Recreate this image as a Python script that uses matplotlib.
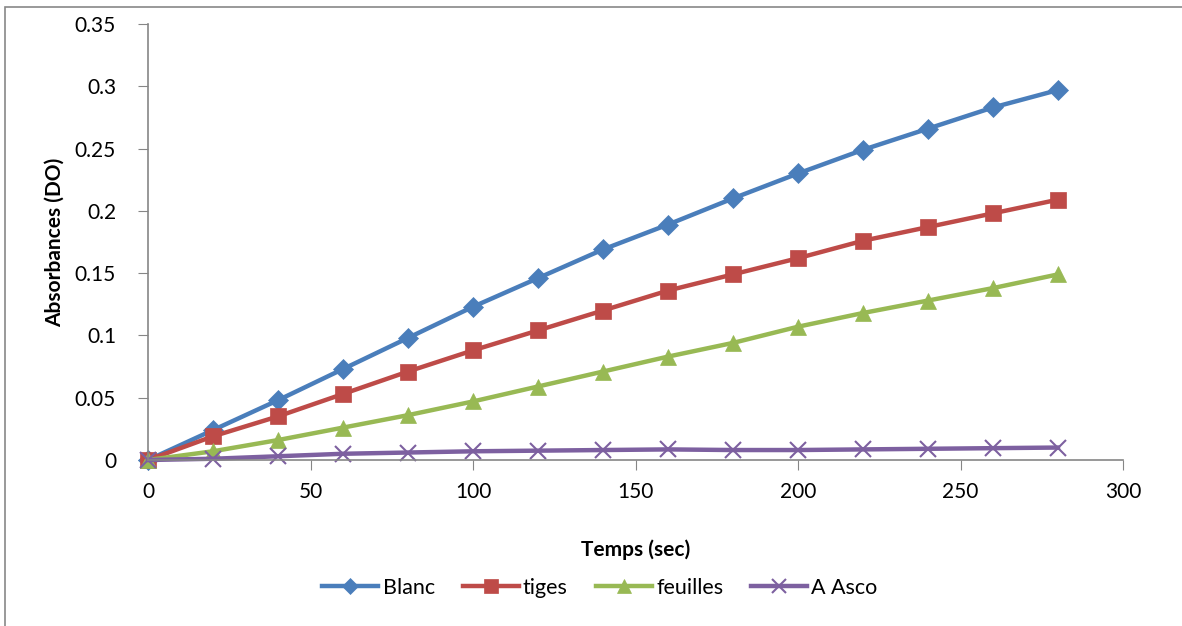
import numpy as np
import matplotlib.pyplot as plt
from matplotlib.patches import Rectangle

plt.rcParams['font.family'] = ['Lato', 'DejaVu Sans']

# Data
temps = [0, 20, 40, 60, 80, 100, 120, 140, 160, 180, 200, 220, 240, 260, 280]
blanc = [0, 0.024, 0.048, 0.073, 0.098, 0.123, 0.146, 0.169, 0.189, 0.210,
         0.230, 0.249, 0.266, 0.283, 0.297]
tiges = [0, 0.019, 0.035, 0.053, 0.071, 0.088, 0.104, 0.120, 0.136, 0.149,
         0.162, 0.176, 0.187, 0.198, 0.209]
feuilles = [0, 0.007, 0.016, 0.026, 0.036, 0.047, 0.059, 0.071, 0.083, 0.094,
            0.107, 0.118, 0.128, 0.138, 0.149]
asco = [0, 0.001, 0.003, 0.005, 0.006, 0.007, 0.0075, 0.008, 0.0085, 0.008,
        0.008, 0.0085, 0.009, 0.0095, 0.010]

fig = plt.figure(figsize=(11.82, 6.26), dpi=100)
W, H = 1182, 626
ax = fig.add_axes([148 / W, (H - 460) / H, (1123 - 148) / W, (460 - 24) / H])

# outer chart frame
fig.patches.append(Rectangle((5 / W, -0.01), 1.2, (H - 7) / H + 0.01,
                             transform=fig.transFigure, fill=False,
                             edgecolor='#888888', linewidth=1.2))

series = [
    (blanc, 'Blanc', '#4A7EBB', 'D', 10),
    (tiges, 'tiges', '#BE4B48', 's', 12),
    (feuilles, 'feuilles', '#98B954', '^', 12),
    (asco, 'A Asco', '#7D60A0', 'x', 12),
]
for vals, name, col, mk, ms in series:
    ax.plot(temps, vals, color=col, lw=3.2, marker=mk, markersize=ms,
            markeredgewidth=1.5 if mk == 'x' else 0.5, markeredgecolor=col,
            label=name, clip_on=False)

ax.set_xlim(0, 300)
ax.set_ylim(0, 0.35)
ax.set_xticks(np.arange(0, 301, 50))
ax.set_yticks(np.arange(0, 0.351, 0.05))
ax.set_yticklabels(['0', '0.05', '0.1', '0.15', '0.2', '0.25', '0.3', '0.35'])
for s in ['top', 'right']:
    ax.spines[s].set_visible(False)
for s in ['left', 'bottom']:
    ax.spines[s].set_color('#868686')
    ax.spines[s].set_linewidth(1.2)
ax.tick_params(direction='out', length=7, color='#868686', labelsize=15)
ax.tick_params(axis='y', pad=16)
ax.tick_params(axis='x', pad=9)

ax.set_xlabel('Temps (sec)', fontsize=15, fontweight='bold', labelpad=27)
ax.set_ylabel('Absorbances (DO)', fontsize=15, fontweight='bold', labelpad=7)

ax.legend(loc='center', bbox_to_anchor=(600 / W, 1 - 588 / H),
          bbox_transform=fig.transFigure, ncol=4, frameon=False, fontsize=15.5,
          handlelength=2.6, columnspacing=1.3, handletextpad=0.2,
          markerscale=0.85)

fig.savefig('out.png', dpi=100)
